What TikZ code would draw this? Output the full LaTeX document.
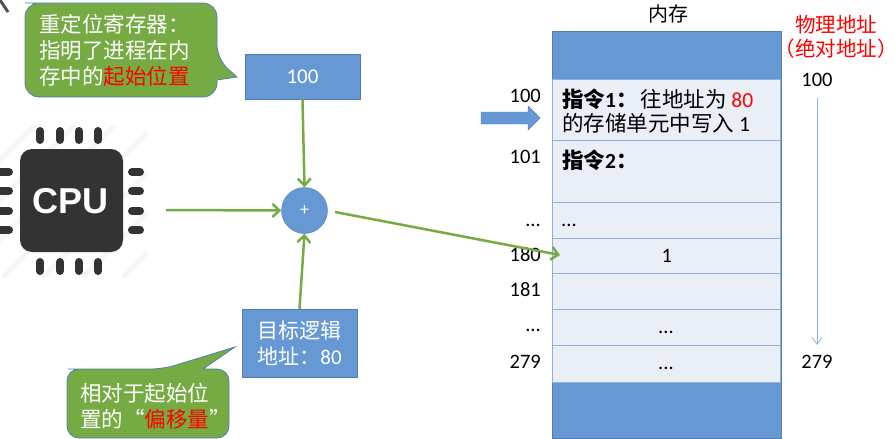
\documentclass[tikz,border=0pt]{standalone}
\usepackage{fontspec}
\setmainfont{Noto Sans CJK SC}
\newfontfamily\latin{Carlito}
\newfontfamily\chipfont{Liberation Sans}
\usepackage{tikz}
\usetikzlibrary{arrows.meta}
\definecolor{boxblue}{HTML}{6699D4}
\definecolor{edgeblue}{HTML}{4F7FB5}
\definecolor{cellblue}{HTML}{E9EEF7}
\definecolor{celledge}{HTML}{8FB0DD}
\definecolor{calloutgreen}{HTML}{76AB43}
\definecolor{chipgrey}{HTML}{333333}
\tikzset{
  bluebox/.style={draw=edgeblue,fill=boxblue,inner sep=0pt,text=white,align=center,font=\fontsize{21}{26}\selectfont},
  cell/.style={draw=celledge,line width=1.4pt,fill=cellblue,minimum width=228,inner sep=0pt,anchor=north west},
  balloon/.style={draw=edgeblue,fill=calloutgreen,line width=.8pt},
  balloontext/.style={text=white,align=left,inner sep=0pt,font=\fontsize{21.5}{26}\selectfont},
  flow/.style={draw=calloutgreen,line width=2.5pt,-{Straight Barb[length=7pt,width=13pt]}},
  addr/.style={inner sep=0pt,font=\latin\fontsize{20.5}{24}\selectfont},
  celltext/.style={inner sep=0pt,anchor=west,align=left,font=\fontsize{21.5}{24}\selectfont},
  pin/.style={draw=chipgrey,line width=8pt,line cap=round}
}
\begin{document}
\begin{tikzpicture}[x=1pt,y=-1pt]
    \useasboundingbox (0,0) rectangle (895,439);

    % corner scrap top left
    \draw[chipgrey,line width=3pt,opacity=.85] (0,0)--(8,12);

    % faint stripes behind the chip
    \begin{scope}
        \clip (0,125) rectangle (147,277);
        \foreach \s in {0,40,...,280}
            \draw[black!4,line width=5pt] (\s-5,125)--(\s-157,277);
    \end{scope}

    % chip with its pins
    \node[fill=chipgrey,rounded corners=12,minimum width=103,minimum height=103,inner sep=0pt] (cpu) at (71.5,200.5) {};
    \node[text=white,inner sep=0pt,font=\fontsize{36}{36}\selectfont\chipfont\bfseries] (cpulabel) at (70.5,201) {CPU};
    \foreach \px in {40,60,79,98} {
        \draw[pin] (\px,131)--(\px,140);
        \draw[pin] (\px,262)--(\px,271);
    }
    \foreach \py in {172,191,211,230} {
        \draw[pin] (-4,\py)--(9,\py);
        \draw[pin] (132,\py)--(140,\py);
    }

    % relocation register with its balloon
    \node[bluebox,minimum width=115,minimum height=45] (base) at (302.5,76.5) {\latin 100};
    \draw[balloon,rounded corners=14] (39,3)--(217,3)--(217,59)[sharp corners]--(237,77)--(217,80)[rounded corners=14]--(217,97)--(25,97)--(25,3)--cycle;
    \node[balloontext,anchor=north west] (basenote) at (39,14) {重定位寄存器：\\指明了进程在内\\存中的{\color{red}起始位置}};

    % target logical address with its balloon
    \node[bluebox,minimum width=115,minimum height=68] (target) at (299.5,343) {目标逻辑\\地址：{\latin 80}};
    \draw[balloon,rounded corners=12] (80,369)--(163,369)[sharp corners]--(235,347)--(203,369)[rounded corners=12]--(229,369)--(229,438)--(67,438)--(67,369)--cycle;
    \node[balloontext,anchor=north west] (targetnote) at (80,383) {相对于起始位\\置的“{\color{red}偏移量}”};

    % adder
    \node[draw=edgeblue,fill=boxblue,circle,minimum size=46,inner sep=0pt,text=white,font=\latin\fontsize{18}{18}\selectfont] (adder) at (304.5,210.5) {+};

    % memory column
    \node[draw=edgeblue,fill=boxblue,line width=1pt,minimum width=229,minimum height=407,inner sep=0pt] (memory) at (666.5,234.5) {};
    \node[cell,minimum height=61] (cella) at (552,79) {};
    \node[cell,minimum height=62] (cellb) at (552,140) {};
    \node[cell,minimum height=36] (cellc) at (552,202) {};
    \node[cell,minimum height=35] (celld) at (552,238) {\latin\fontsize{20.5}{24}\selectfont 1};
    \node[cell,minimum height=36] (celle) at (552,273) {};
    \node[cell,minimum height=36] (cellf) at (552,309) {};
    \node[cell,minimum height=37] (cellg) at (552,345) {};
    \node[inner sep=0pt,font=\fontsize{20}{24}\selectfont] (memtitle) at (668,14) {内存};

    % text inside the cells
    \node[celltext] (instra) at (562,111) {{\bfseries 指令{\latin 1}：}\hspace{3pt}往地址为 {\latin\color{red}80}\\的存储单元中写入 {\latin 1}};
    \node[celltext] (instrb) at (562,160) {\bfseries 指令{\latin 2}：};
    \node[addr,anchor=west] (instrc) at (561,225) {...};
    \node[addr] (dotsf) at (666,332) {...};
    \node[addr] (dotsg) at (666,368) {...};

    % addresses left of the column
    \node[addr,anchor=east] (lefta) at (541,96) {100};
    \node[addr,anchor=east] (leftb) at (541,157) {101};
    \node[addr,anchor=east] (leftc) at (541,225) {...};
    \node[addr,anchor=east] (leftd) at (541,255) {180};
    \node[addr,anchor=east] (lefte) at (541,290) {181};
    \node[addr,anchor=east] (leftf) at (541,330) {...};
    \node[addr,anchor=east] (leftg) at (541,362) {279};

    % physical addresses right of the column
    \node[inner sep=0pt,text=red,align=center,font=\fontsize{20.5}{24.5}\selectfont] (phystitle) at (836,37) {物理地址\\（绝对地址）};
    \node[addr] (physa) at (817,80) {100};
    \node[addr] (physb) at (817,362) {279};
    \coordinate (physfrom) at (817,98);
    \coordinate (physto) at (817,345);
    \draw[celledge,line width=.8pt,-{Straight Barb[length=7pt,width=10pt]}] (physfrom)--(physto);

    % block arrow at the current instruction
    \draw[draw=edgeblue,fill=boxblue] (481,112)--(528,112)--(528,106)--(540,118)--(528,130)--(528,124)--(481,124)--cycle;

    % green connectors
    \coordinate (cpuout) at (166,210);
    \coordinate (sumout) at (335,212);
    \coordinate (hit) at (560,255);
    \draw[flow] (base.south)--(adder.north);
    \draw[flow] (cpuout)--(adder.west);
    \draw[flow] (target.north)--(adder.south);
    \draw[flow] (sumout)--(hit);

\end{tikzpicture}
\end{document}
